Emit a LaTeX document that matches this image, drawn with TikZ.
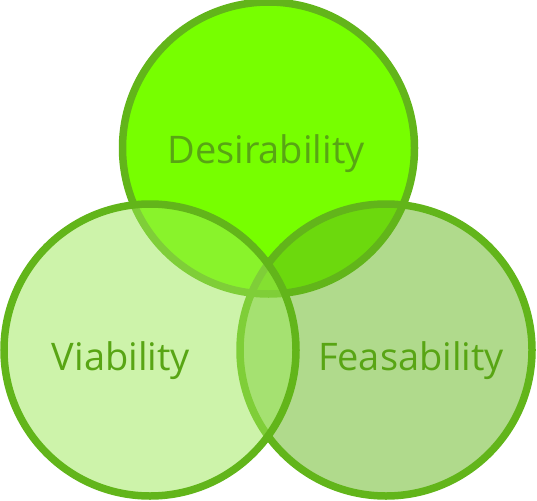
\documentclass[tikz,border=0pt]{standalone}
\usepackage{fontspec}
\setmainfont{Open Sans}
\definecolor{strokeg}{RGB}{98,181,26}
\definecolor{topfill}{RGB}{119,255,0}
\definecolor{leftfill}{RGB}{156,232,86}
\definecolor{textg}{RGB}{88,165,20}
\begin{document}
\begin{tikzpicture}[x=1pt,y=-1pt,
  ring/.style={circle, inner sep=0pt, minimum size=292pt, draw=strokeg, line width=7.5pt},
  label/.style={text=textg, font=\fontsize{38}{40}\selectfont, inner sep=0pt, anchor=base}]
\useasboundingbox (0,0) rectangle (537,500);
\node[ring, fill=topfill] (top) at (268.5,148) {};
\node[ring, fill=strokeg, fill opacity=0.5] (right) at (386,350) {};
\node[ring, fill=leftfill, fill opacity=0.5] (left) at (150,350) {};
\node[label] (des) at (266,163) {Desirability};
\node[label] (via) at (121,370) {Viability};
\node[label] (fea) at (411,370) {Feasability};
\end{tikzpicture}
\end{document}
